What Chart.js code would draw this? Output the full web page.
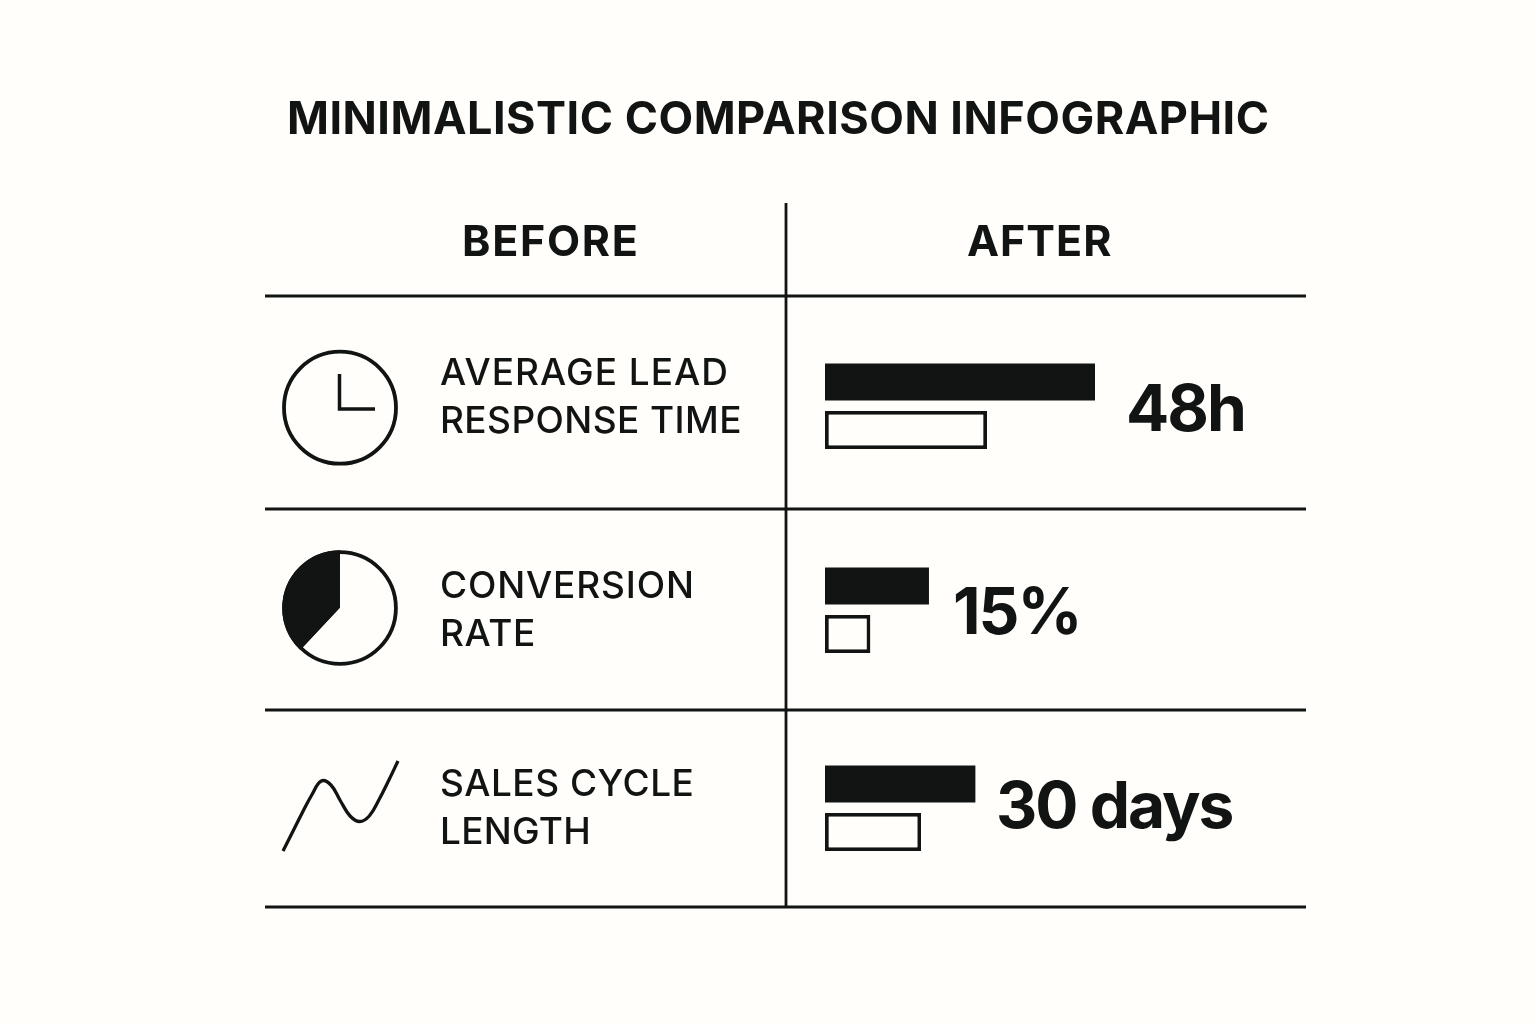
<!DOCTYPE html>
<html>
<head>
<meta charset="utf-8">
<title>Minimalistic Comparison Infographic</title>
<script src="https://cdn.jsdelivr.net/npm/chart.js@4"></script>
<style>
html,body{margin:0;padding:0;background:#FFFEFA;width:1536px;height:1024px;overflow:hidden}
canvas{position:absolute;display:block}
</style>
</head>
<body>
<canvas id="frame" width="1536" height="1024" style="left:0;top:0"></canvas>
<canvas id="pie" width="120" height="120" style="left:280px;top:548px"></canvas>
<canvas id="line" width="125" height="100" style="left:278px;top:756px"></canvas>
<canvas id="bars0" width="270" height="96" style="left:825px;top:358px"></canvas>
<canvas id="bars1" width="270" height="96" style="left:825px;top:562px"></canvas>
<canvas id="bars2" width="270" height="96" style="left:825px;top:760px"></canvas>
<script>
const titleText = "MINIMALISTIC COMPARISON INFOGRAPHIC";
const columnHeaders = ["BEFORE", "AFTER"];
const rowLabels = [["AVERAGE LEAD", "RESPONSE TIME"], ["CONVERSION", "RATE"], ["SALES CYCLE", "LENGTH"]];
const valueLabels = ["48h", "15%", "30 days"];
const filledBars = [100, 38.5, 55.7];
const outlineBars = [60, 16.8, 35.6];
const barAxisMax = 100;
const pieShares = [38, 62];
const trendValues = [0, 19, 38, 56, 70, 66, 50, 35, 29.5, 35, 51, 70, 90];

const INK = "#111412";
const PAPER = "#FFFEFA";
const FONT = "Inter, 'Liberation Sans', sans-serif";
Chart.defaults.animation = false;
Chart.defaults.responsive = false;
const quiet = { legend: { display: false }, title: { display: false }, tooltip: { enabled: false } };

const framePlugin = {
  id: "frame",
  afterDraw(chart) {
    const c = chart.ctx;
    c.save();
    c.strokeStyle = INK;
    c.fillStyle = INK;
    c.lineWidth = 2.8;
    c.lineCap = "butt";
    [296, 509, 710, 907].forEach(y => {
      c.beginPath(); c.moveTo(265, y); c.lineTo(1306, y); c.stroke();
    });
    c.beginPath(); c.moveTo(786, 203); c.lineTo(786, 907); c.stroke();

    // clock icon
    c.lineWidth = 3.8;
    c.beginPath(); c.arc(340, 407.7, 56, 0, Math.PI * 2); c.stroke();
    c.lineWidth = 3.5;
    c.beginPath(); c.moveTo(339.5, 374); c.lineTo(339.5, 409); c.lineTo(375, 409); c.stroke();

    c.textBaseline = "alphabetic";
    c.textAlign = "left";
    const put = (t, x, y, font, ls) => { c.font = font; c.letterSpacing = ls + "px"; c.fillText(t, x, y); };
    put(titleText, 287, 134, "650 45px " + FONT, 0.5);
    put(columnHeaders[0], 462, 256, "650 43px " + FONT, 1.7);
    put(columnHeaders[1], 967, 256, "650 43px " + FONT, 1.0);
    const labelY = [[385, 433], [598, 646], [796, 844]];
    const labelSpacing = [[1.0, 0.4], [0.85, 0.6], [0.5, 0.25]];
    rowLabels.forEach((lines, r) => lines.forEach((t, i) => put(t, 440, labelY[r][i], "500 37px " + FONT, labelSpacing[r][i])));
    const valX = [1126, 953, 996], valY = [431, 634, 828];
    valueLabels.forEach((t, i) => put(t, valX[i], valY[i], "700 64px " + FONT, -2));
    c.restore();
  }
};

new Chart(document.getElementById("frame"), {
  type: "bar",
  data: { labels: [], datasets: [] },
  options: { plugins: quiet, scales: { x: { display: false }, y: { display: false } } },
  plugins: [framePlugin]
});

const pieRing = {
  id: "pieRing",
  afterDatasetsDraw(chart) {
    const a = chart.getDatasetMeta(0).data[0];
    const w = 3.8;
    const c = chart.ctx;
    c.save();
    c.strokeStyle = INK;
    c.lineWidth = w;
    c.beginPath();
    c.arc(a.x, a.y, a.outerRadius - w / 2, 0, Math.PI * 2);
    c.stroke();
    c.restore();
  }
};

new Chart(document.getElementById("pie"), {
  type: "pie",
  data: { datasets: [{ data: pieShares, backgroundColor: [INK, PAPER], borderWidth: 0 }] },
  options: { plugins: quiet, rotation: 360 * pieShares[1] / (pieShares[0] + pieShares[1]), layout: { padding: 2.2 } },
  plugins: [pieRing]
});

new Chart(document.getElementById("line"), {
  type: "line",
  data: {
    labels: trendValues.map((_, i) => i),
    datasets: [{ data: trendValues, borderColor: INK, borderWidth: 3.3, pointRadius: 0, tension: 0.4, clip: false, fill: false }]
  },
  options: {
    plugins: quiet,
    layout: { padding: 5 },
    scales: { x: { display: false }, y: { display: false, min: 0, max: 90 } }
  }
});

filledBars.forEach((v, i) => {
  new Chart(document.getElementById("bars" + i), {
    type: "bar",
    data: {
      labels: [rowLabels[i].join(" ")],
      datasets: [
        { data: [v], backgroundColor: INK, borderWidth: 0 },
        { data: [outlineBars[i]], backgroundColor: PAPER, borderColor: INK, borderWidth: 3.8, borderSkipped: false, barPercentage: 0.79 }
      ]
    },
    options: {
      indexAxis: "y",
      plugins: quiet,
      datasets: { bar: { categoryPercentage: 1, barPercentage: 0.77 } },
      scales: {
        x: { display: false, min: 0, max: barAxisMax },
        y: { display: false }
      }
    }
  });
});
</script>
</body>
</html>
